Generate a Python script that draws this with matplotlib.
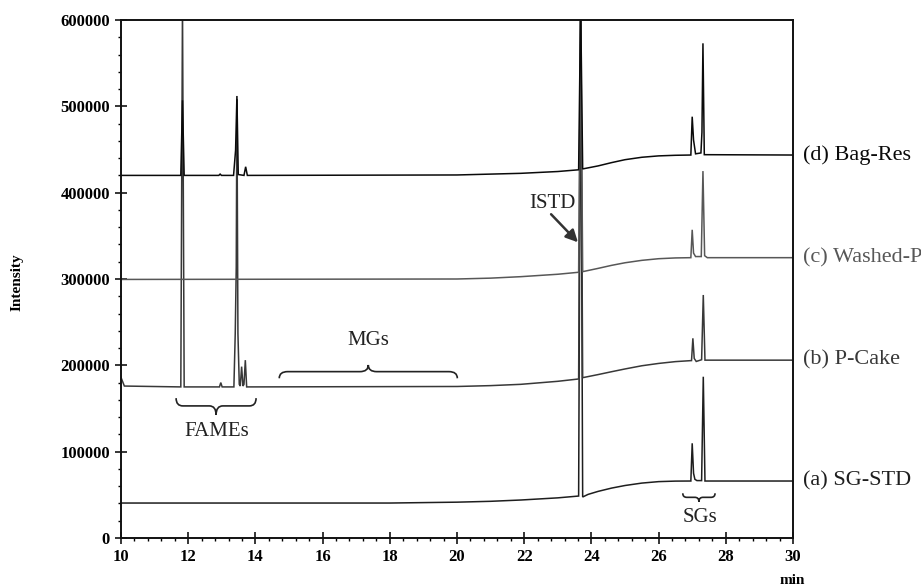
import numpy as np
import matplotlib
matplotlib.use("Agg")
import matplotlib.pyplot as plt
from matplotlib.path import Path
from matplotlib.patches import PathPatch
from matplotlib.ticker import MultipleLocator, FixedLocator

plt.rcParams['font.family'] = ['Liberation Serif', 'DejaVu Serif']

# ---- chromatogram traces: retention time (min) and detector intensity ----
time_a = [10.0, 18.0, 20.0, 21.0, 21.9, 23.0, 23.62, 23.68, 23.74, 23.9, 24.2,
          24.6, 25.0, 25.5, 26.0, 26.5, 26.96, 27.0, 27.04, 27.08, 27.14, 27.28,
          27.33, 27.38, 30.0]
inten_a = [40500, 40500, 41500, 42500, 44000, 46500, 48600, 620000, 47500, 50500,
           54000, 57800, 60800, 63600, 65300, 65900, 66000, 109700, 75000, 68000,
           66500, 66500, 186800, 66000, 66000]

time_b = [10.0, 10.1, 11.78, 11.83, 11.88, 12.93, 12.97, 13.01, 13.36, 13.40,
          13.43, 13.45, 13.48, 13.52, 13.55, 13.59, 13.63, 13.66, 13.70, 13.74,
          20.0, 21.0, 21.9, 23.0, 23.62, 23.68, 23.74, 24.2, 24.6, 25.0, 25.5,
          26.0, 26.5, 26.98, 27.02, 27.06, 27.12, 27.28, 27.33, 27.38, 30.0]
inten_b = [186000, 176000, 175000, 620000, 175000, 175000, 180000, 175000, 175000,
           237000, 314000, 508000, 237000, 178000, 176000, 198500, 176000, 178000,
           206000, 175000, 175500, 176500, 178000, 181500, 184200, 620000, 185700,
           189300, 192600, 195800, 199500, 202200, 204300, 205500, 231300, 208000,
           204500, 206500, 281500, 206000, 206000]

time_c = [10.0, 20.0, 21.0, 21.9, 23.0, 23.62, 23.68, 23.74, 24.2, 24.6, 25.0,
          25.5, 26.0, 26.5, 26.96, 27.0, 27.04, 27.1, 27.27, 27.32, 27.37, 27.45,
          30.0]
inten_c = [299500, 300000, 301000, 302700, 305500, 307800, 620000, 308500, 312300,
           315800, 318800, 321600, 323500, 324400, 324700, 357000, 330000, 326000,
           326000, 425000, 327000, 324700, 324700]

time_d = [10.0, 11.78, 11.83, 11.88, 12.91, 12.95, 12.99, 13.35, 13.41, 13.45,
          13.49, 13.66, 13.71, 13.76, 20.0, 21.0, 21.9, 23.0, 23.62, 23.68, 23.74,
          24.2, 24.6, 25.0, 25.5, 26.0, 26.5, 26.96, 27.0, 27.04, 27.1, 27.26,
          27.29, 27.32, 27.36, 30.0]
inten_d = [420000, 420000, 507000, 420000, 420000, 421500, 420000, 420000, 449000,
           512000, 421000, 420000, 430000, 420000, 420500, 421500, 422400, 424500,
           426500, 620000, 427500, 431000, 434800, 438200, 441000, 442600, 443300,
           443600, 488000, 461000, 445000, 446000, 470000, 573000, 444000, 443600]

trace_labels = ['(a) SG-STD', '(b) P-Cake', '(c) Washed-P', '(d) Bag-Res']
trace_colors = ['#1e1e1e', '#383838', '#575757', '#0a0a0a']

x_ticks = [10, 12, 14, 16, 18, 20, 22, 24, 26, 28, 30]
y_ticks = [0, 100000, 200000, 300000, 400000, 500000, 600000]

# ---- figure ----
fig = plt.figure(figsize=(9.21, 5.87), dpi=100)
ax = fig.add_axes([121 / 921, 49 / 587, 672 / 921, 518 / 587])

series = [(time_a, inten_a), (time_b, inten_b), (time_c, inten_c), (time_d, inten_d)]
for (t, y), lab, col in zip(series, trace_labels, trace_colors):
    ax.plot(t, y, color=col, lw=1.1, solid_joinstyle='miter')
    ax.text(30.3, y[-1], lab, color=col, fontsize=16, va='center', ha='left',
            clip_on=False)

ax.set_xlim(10, 30)
ax.set_ylim(0, 600000)
ax.xaxis.set_major_locator(FixedLocator(x_ticks))
ax.yaxis.set_major_locator(FixedLocator(y_ticks))
ax.xaxis.set_minor_locator(MultipleLocator(0.4))
ax.yaxis.set_minor_locator(MultipleLocator(20000))
ax.set_xticklabels([str(v) for v in x_ticks])
ax.set_yticklabels([str(v) for v in y_ticks])
ax.tick_params(which='major', direction='inout', length=8, width=1.1,
               labelsize=12, pad=4)
ax.tick_params(which='minor', direction='out', length=2.5, width=1.0)
for lbl in ax.get_xticklabels() + ax.get_yticklabels():
    lbl.set_fontweight('bold')
for s in ax.spines.values():
    s.set_linewidth(1.4)
    s.set_color('#111111')


def brace(x0, x1, y_end, y_bar, y_tip, r, color='#222222'):
    """Curly brace between x0 and x1; ends at y_end, tip at y_tip."""
    xm = 0.5 * (x0 + x1)
    verts = [(x0, y_end), (x0, y_bar), (x0 + r, y_bar),
             (xm - r, y_bar), (xm, y_bar), (xm, y_tip),
             (xm, y_bar), (xm + r, y_bar),
             (x1 - r, y_bar), (x1, y_bar), (x1, y_end)]
    codes = [Path.MOVETO, Path.CURVE3, Path.CURVE3,
             Path.LINETO, Path.CURVE3, Path.CURVE3,
             Path.CURVE3, Path.CURVE3,
             Path.LINETO, Path.CURVE3, Path.CURVE3]
    ax.add_patch(PathPatch(Path(verts, codes), fill=False, edgecolor=color,
                           lw=1.2))


brace(11.64, 14.02, 162000, 153000, 142500, 0.2)
brace(14.71, 20.01, 185000, 192700, 200400, 0.25)
brace(26.72, 27.68, 51800, 47100, 42000, 0.12)

ax.text(12.85, 123000, 'FAMEs', fontsize=15, ha='center', va='center', color='#222222')
ax.text(17.36, 228500, 'MGs', fontsize=15, ha='center', va='center', color='#222222')
ax.text(27.22, 24000, 'SGs', fontsize=15, ha='center', va='center', color='#222222')
ax.text(22.83, 388000, 'ISTD', fontsize=15, ha='center', va='center', color='#222222')
ax.annotate('', xy=(23.6, 342500), xytext=(22.8, 375000),
            arrowprops=dict(arrowstyle='-|>', color='#333333', lw=1.8,
                            shrinkA=0, shrinkB=0, mutation_scale=18))

fig.text(17 / 921, 1 - 282 / 587, 'Intensity', rotation=90, fontsize=11,
         fontweight='bold', ha='center', va='center')
fig.text(792 / 921, 1 - 580 / 587, 'min', fontsize=11, fontweight='bold',
         ha='center', va='center')

fig.savefig('out.png', dpi=100)
